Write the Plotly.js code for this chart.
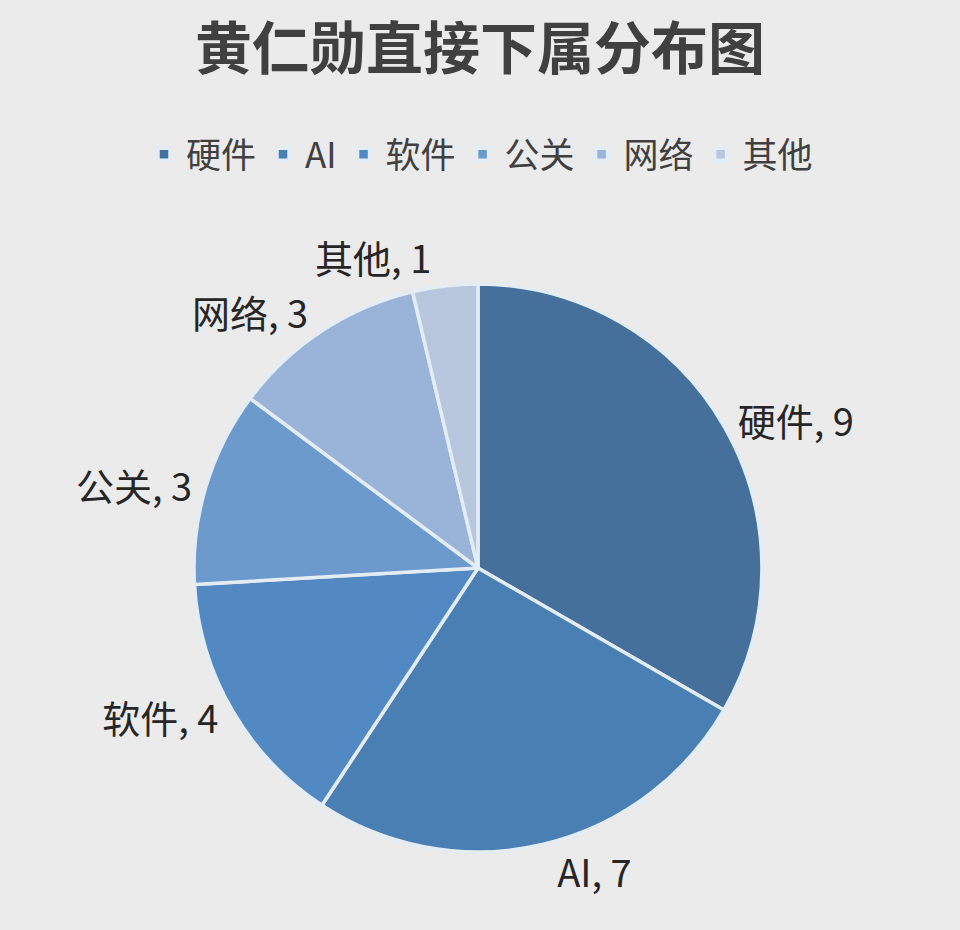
<!DOCTYPE html>
<html>
<head>
<meta charset="utf-8">
<script src="https://cdn.plot.ly/plotly-3.0.1.min.js"></script>
<style>
  html, body { margin: 0; padding: 0; background: #ebebeb; }
  #pie_chart { width: 960px; height: 930px; }
  /* the reference has no leader lines to the labels */
  #pie_chart path.textline { display: none; }
</style>
</head>
<body>
<div id="pie_chart"></div>
<script>
/* direct reports by area */
var categories = ['硬件', 'AI', '软件', '公关', '网络', '其他'];
var counts = [9, 7, 4, 3, 3, 1];
var slice_colors = ['#44709b', '#4a7fb3', '#5289c2', '#6d9acd', '#9ab3d8', '#b8c7de'];

var cjk_font = '"Noto Sans CJK SC", "Noto Sans", sans-serif';

var pie = {
  type: 'pie',
  labels: categories,
  values: counts,
  sort: false,
  direction: 'clockwise',
  rotation: 0,
  marker: {
    colors: slice_colors,
    line: { color: '#e4ecf4', width: 3.5 }
  },
  textposition: 'outside',
  texttemplate: '%{label}, %{value}',
  textfont: { family: cjk_font, size: 38, color: '#262626' },
  hoverinfo: 'label+value',
  domain: { x: [0.2021, 0.7937], y: [0.0839, 0.6946] }
};

var layout = {
  width: 960,
  height: 930,
  paper_bgcolor: '#ebebeb',
  plot_bgcolor: '#ebebeb',
  margin: { l: 0, r: 0, t: 0, b: 0 },
  title: {
    text: '<b>黄仁勋直接下属分布图</b>',
    font: { family: cjk_font, size: 57, color: '#404040' },
    x: 0.5,
    xanchor: 'center',
    y: 0.947,
    yanchor: 'middle'
  },
  showlegend: true,
  legend: {
    orientation: 'h',
    x: 0.5,
    xanchor: 'center',
    y: 0.834,
    yanchor: 'middle',
    font: { family: cjk_font, size: 35, color: '#404040' },
    itemwidth: 34,
    traceorder: 'normal'
  }
};

Plotly.newPlot('pie_chart', [pie], layout, { staticPlot: true });
</script>
</body>
</html>
